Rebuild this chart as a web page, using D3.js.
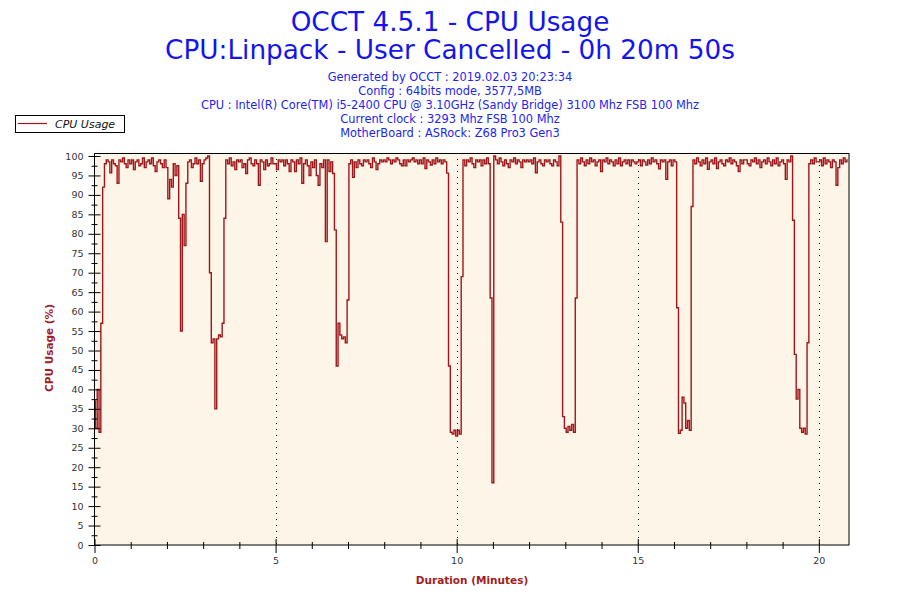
<!DOCTYPE html>
<html>
<head>
<meta charset="utf-8">
<script src="https://cdn.jsdelivr.net/npm/d3@7"></script>
<style>
	body { margin: 0; background: #fff; }
	text { font-family: "DejaVu Sans", Verdana, sans-serif; }
</style>
</head>
<body>
<div id="chart"></div>
<script>
const titleLines = ["OCCT 4.5.1 - CPU Usage", "CPU:Linpack - User Cancelled - 0h 20m 50s"];
const infoLines = [
	"Generated by OCCT : 2019.02.03 20:23:34",
	"Config : 64bits mode, 3577,5MB",
	"CPU : Intel(R) Core(TM) i5-2400 CPU @ 3.10GHz (Sandy Bridge) 3100 Mhz FSB 100 Mhz",
	"Current clock : 3293 Mhz FSB 100 Mhz",
	"MotherBoard : ASRock: Z68 Pro3 Gen3"
];
const seriesName = "CPU Usage";
const xLabel = "Duration (Minutes)";
const yLabel = "CPU Usage (%)";
const totalMinutes = 20 + 50 / 60;   // 0h 20m 50s
const sampleSeconds = 3;
const xTicks = [0, 5, 10, 15, 20];
const xMinorTicks = [1, 2, 3, 4, 6, 7, 8, 9, 11, 12, 13, 14, 16, 17, 18, 19];
const yTicks = [0, 5, 10, 15, 20, 25, 30, 35, 40, 45, 50, 55, 60, 65, 70, 75, 80, 85, 90, 95, 100];
const yMinorTicks = [2.5, 7.5, 12.5, 17.5, 22.5, 27.5, 32.5, 37.5, 42.5, 47.5, 52.5, 57.5, 62.5, 67.5, 72.5, 77.5, 82.5, 87.5, 92.5, 97.5];

// one row per minute, one value every 3 seconds
const usage = [
	37, 30, 40, 29, 57, 92, 98, 99, 98.5, 95.7, 99, 98, 97.5, 93, 99, 98.5, 99.5, 98, 97, 99,
	98, 99, 96.5, 98.5, 99, 97.5, 98, 99.5, 97, 98.5, 99, 98, 99.5, 97.5, 96, 98.5, 99, 98, 97, 99,
	97, 89, 94, 92, 98, 95, 97.5, 84, 55, 85, 77, 93, 98.5, 99, 97, 98, 99.5, 98, 99, 93.5,
	98, 99, 99.5, 100, 70, 52, 53, 35, 53, 54, 53.5, 57, 84, 99, 98, 99.5, 97.5, 98.5, 96.5, 99,
	98.5, 99, 97, 98, 95.5, 99, 99.5, 98, 97.5, 99, 98, 92.5, 99, 98.5, 96.5, 99, 97.5, 98, 99.5, 98,
	98, 96.5, 99, 98.5, 99, 97.5, 99, 98, 96, 99, 98.5, 96, 99, 98, 99.5, 93, 98, 99, 97.5, 95,
	98.5, 97, 99, 95, 92.5, 98, 97, 99, 78, 99, 96, 98.5, 95.5, 81, 46, 57, 54, 53, 53.5, 52,
	63, 98, 99, 94.5, 98.5, 97, 99, 98, 97.5, 99, 98.5, 99, 98, 97, 99.5, 98.5, 96.5, 98, 99, 98.5,
	99, 98.5, 99.5, 99, 98, 99, 98.5, 99.5, 99, 98, 97.5, 99, 97.5, 99, 98.5, 99, 99.5, 98.5, 99, 98,
	99, 98, 99.5, 96.8, 99, 98.5, 97.7, 99, 98, 99.5, 98.5, 99, 98, 99, 98.5, 95.6, 46, 29, 28.5, 29.5,
	28, 29.5, 28.5, 69, 99, 97.5, 99, 98.5, 99.5, 98, 97, 99, 98.5, 99, 97.5, 99, 98, 99.5, 98, 63.5,
	16, 100, 99, 98, 99.5, 98.5, 97.5, 99, 98, 97, 99, 98.5, 99.5, 98, 99, 98.5, 97, 99, 98.5, 99,
	98.5, 99, 98, 99.5, 95.7, 98.5, 99, 98, 97.5, 99, 98.5, 99, 98, 97.5, 99, 98.5, 97.5, 100, 83, 33,
	30, 29, 30.5, 29.5, 31, 29, 63.5, 99, 98, 99.5, 98.5, 97.5, 99, 98, 99.5, 98.5, 99, 97.5, 98.5, 99,
	96, 99, 98.5, 99.5, 98, 99, 98.5, 97.5, 99, 98, 99.5, 97.5, 98.5, 99, 98, 99, 97.5, 99, 98.5, 98,
	98.5, 99, 97.5, 99, 98.5, 97.7, 99, 98, 99.5, 98.5, 99, 98, 96.7, 99, 98.5, 99, 94, 98.5, 99, 97.5,
	99, 98.5, 61, 28.7, 29.5, 38, 36.5, 30, 32, 29.5, 87, 99, 98, 99.5, 98.5, 97.5, 99, 98, 99.5, 96.6,
	98.5, 99, 98, 99.5, 96.8, 98.5, 99, 98, 97.5, 99, 98.5, 99.5, 98, 99, 98.5, 97.5, 96, 99, 98, 99,
	99, 98, 97.5, 99, 98.5, 99.5, 98, 99, 97, 98.5, 99, 98, 99.5, 98.5, 97.5, 99, 98, 99.5, 97.5, 98.5,
	99, 98, 94, 99, 98.5, 100, 83.5, 49, 37.5, 40, 30, 29, 30, 28.5, 52, 98, 99, 98, 99.5, 98.5,
	98.5, 99, 97.5, 99.5, 98, 99, 98.5, 97, 99, 98.5, 92.5, 97, 99, 98, 99.5, 98.5, 99
];

const width = 900, height = 600;
const margin = {top: 153, right: 51, bottom: 55, left: 94.5};
const lineColor = "#a0161a";
const labelColor = "#a01e1e";

const svg = d3.select("#chart").append("svg")
	.attr("width", width)
	.attr("height", height);

svg.append("rect")
	.attr("width", width)
	.attr("height", height)
	.attr("fill", "#fff");

let x = d3.scaleLinear()
	.domain([0, totalMinutes])
	.range([margin.left, width - margin.right]);

let y = d3.scaleLinear()
	.domain([0, 100])
	.range([height - margin.bottom, 156]);

// titles
svg.selectAll(".title")
	.data(titleLines).enter()
	.append("text")
	.attr("class", "title")
	.attr("x", 450)
	.attr("y", (d, i) => 31 + i * 27.5)
	.attr("text-anchor", "middle")
	.attr("fill", "#1414ee")
	.style("font-size", "26.3px")
	.text(d => d);

svg.selectAll(".info")
	.data(infoLines).enter()
	.append("text")
	.attr("class", "info")
	.attr("x", 450)
	.attr("y", (d, i) => 81 + i * 13.9)
	.attr("text-anchor", "middle")
	.attr("fill", "#2424f0")
	.style("font-size", "11.4px")
	.text(d => d);

// legend
let legend = svg.append("g");
legend.append("rect")
	.attr("x", 15.5).attr("y", 115.5)
	.attr("width", 109).attr("height", 17)
	.attr("fill", "#fff")
	.attr("stroke", "#000");
legend.append("line")
	.attr("x1", 18).attr("x2", 47)
	.attr("y1", 123.5).attr("y2", 123.5)
	.attr("stroke", lineColor)
	.attr("stroke-width", 1.2);
legend.append("text")
	.attr("x", 55).attr("y", 127.5)
	.attr("fill", "#111")
	.style("font-size", "11px")
	.style("font-style", "italic")
	.text(seriesName);

// plot background
svg.append("rect")
	.attr("x", margin.left).attr("y", margin.top)
	.attr("width", width - margin.right - margin.left)
	.attr("height", height - margin.bottom - margin.top)
	.attr("fill", "#fdf6e8");

// dotted vertical grid
svg.append("g")
	.selectAll("line")
	.data(xTicks.filter(d => d > 0)).enter()
	.append("line")
	.attr("x1", d => Math.round(x(d)) + 0.5)
	.attr("x2", d => Math.round(x(d)) + 0.5)
	.attr("y1", margin.top)
	.attr("y2", height - margin.bottom)
	.attr("stroke", "#000")
	.attr("stroke-dasharray", "1,5");

// series, drawn as steps like the logger does
let line = d3.line()
	.x((d, i) => x(i * sampleSeconds / 60))
	.y(d => y(d))
	.curve(d3.curveStep);

svg.append("path")
	.datum(usage)
	.attr("fill", "none")
	.attr("stroke", lineColor)
	.attr("stroke-width", 1.4)
	.attr("d", line);

// frame
svg.append("rect")
	.attr("x", margin.left).attr("y", margin.top + 0.5)
	.attr("width", width - margin.right - margin.left)
	.attr("height", height - margin.bottom - margin.top - 0.5)
	.attr("fill", "none")
	.attr("stroke", "#000");

// axes
let styleAxis = g => {
	g.select(".domain").remove();
	g.selectAll("line").attr("stroke", "#000");
	g.selectAll("text")
		.attr("fill", "#333")
		.style("font-family", "\"DejaVu Sans\", Verdana, sans-serif")
		.style("font-size", "9.5px");
};
let noText = g => g.selectAll("text").remove();

let bottom = height - margin.bottom;
svg.append("g").attr("transform", `translate(0,${bottom})`)
	.call(d3.axisBottom(x).tickValues(xTicks).tickSize(8).tickPadding(4).tickFormat(d3.format("d")))
	.call(styleAxis);
svg.append("g").attr("transform", `translate(0,${bottom})`)
	.call(d3.axisTop(x).tickValues(xTicks).tickSize(6))
	.call(styleAxis).call(noText);
svg.append("g").attr("transform", `translate(0,${bottom})`)
	.call(d3.axisBottom(x).tickValues(xMinorTicks).tickSize(4))
	.call(styleAxis).call(noText);
svg.append("g").attr("transform", `translate(0,${bottom})`)
	.call(d3.axisTop(x).tickValues(xMinorTicks).tickSize(3))
	.call(styleAxis).call(noText);

svg.append("g").attr("transform", `translate(${margin.left},0)`)
	.call(d3.axisLeft(y).tickValues(yTicks).tickSize(6).tickPadding(5))
	.call(styleAxis);
svg.append("g").attr("transform", `translate(${margin.left},0)`)
	.call(d3.axisRight(y).tickValues(yTicks).tickSize(6))
	.call(styleAxis).call(noText);
svg.append("g").attr("transform", `translate(${margin.left},0)`)
	.call(d3.axisLeft(y).tickValues(yMinorTicks).tickSize(3))
	.call(styleAxis).call(noText);
svg.append("g").attr("transform", `translate(${margin.left},0)`)
	.call(d3.axisRight(y).tickValues(yMinorTicks).tickSize(3))
	.call(styleAxis).call(noText);

// axis titles
svg.append("text")
	.attr("x", 472)
	.attr("y", 584)
	.attr("text-anchor", "middle")
	.attr("fill", labelColor)
	.style("font-size", "10.5px")
	.style("font-weight", "bold")
	.text(xLabel);

svg.append("text")
	.attr("transform", "translate(53,348) rotate(-90)")
	.attr("text-anchor", "middle")
	.attr("fill", labelColor)
	.style("font-size", "10.5px")
	.style("font-weight", "bold")
	.text(yLabel);
</script>
</body>
</html>
